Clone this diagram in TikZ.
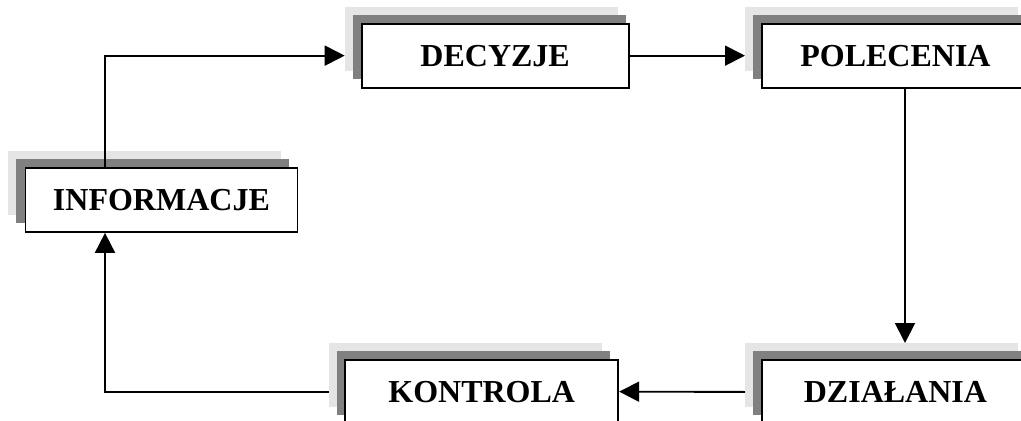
\documentclass[tikz,border=0pt]{standalone}
\usepackage{fontspec}
\setmainfont{Liberation Serif}
\usetikzlibrary{arrows.meta}
\definecolor{shlight}{HTML}{E5E5E5}
\definecolor{shdark}{HTML}{808080}
\tikzset{
  shbase/.style={draw=none, minimum width=204.75pt, minimum height=48pt, inner sep=0pt, anchor=north west},
  shL/.style={shbase, fill=shlight},
  shD/.style={shbase, fill=shdark},
  box/.style={draw=black, fill=white, line width=1.4pt, minimum height=48pt, inner sep=0pt, anchor=north west,
    font=\bfseries\fontsize{24}{28}\selectfont},
  conn/.style={line width=1.4pt},
  arr/.style={conn, -{Triangle[length=15pt,width=15pt]}}
}
\begin{document}
\begin{tikzpicture}[x=0.75pt,y=-0.75pt]
\clip (0,0) rectangle (1021,421);
\fill[white] (0,0) rectangle (1021,421);
% DECYZJE
\node[shL] (decL) at (344.7,6.7) {};
\node[shD] (decD) at (352.7,14.7) {};
\node[box, minimum width=200.25pt] (dec) at (360.7,22.7) {DECYZJE};
% POLECENIA
\node[shL] (polL) at (745,6.7) {};
\node[shD] (polD) at (753,14.7) {};
\node[box, minimum width=200.25pt] (pol) at (761,22.7) {POLECENIA};
% INFORMACJE
\node[shL] (infL) at (8,151) {};
\node[shD] (infD) at (16,159) {};
\node[box, minimum width=204pt] (inf) at (24.5,167) {INFORMACJE\hspace{19pt}};
% KONTROLA
\node[shL] (konL) at (329,342.7) {};
\node[shD] (konD) at (337,350.7) {};
\node[box, minimum width=204.75pt] (kon) at (344.3,358.7) {KONTROLA};
% DZIALANIA
\node[shL] (diaL) at (745,343) {};
\node[shD] (diaD) at (753,351) {};
\node[box, minimum width=200.25pt] (dia) at (761,359) {DZIAŁANIA};
% guide coordinates
\coordinate (a1) at (105,0);
\coordinate (a2) at (905,0);
% connectors
\draw[arr] (inf.north -| a1) |- (dec.west -| decL.west);
\draw[arr] (dec.east) -- (pol.west -| polL.west);
\draw[arr] (pol.south -| a2) -- (diaL.north -| a2);
\draw[arr] (dia.west -| diaL.west) -- (kon.east);
\draw[arr] (kon.west -| konL.west) -| (inf.south -| a1);
\end{tikzpicture}
\end{document}
